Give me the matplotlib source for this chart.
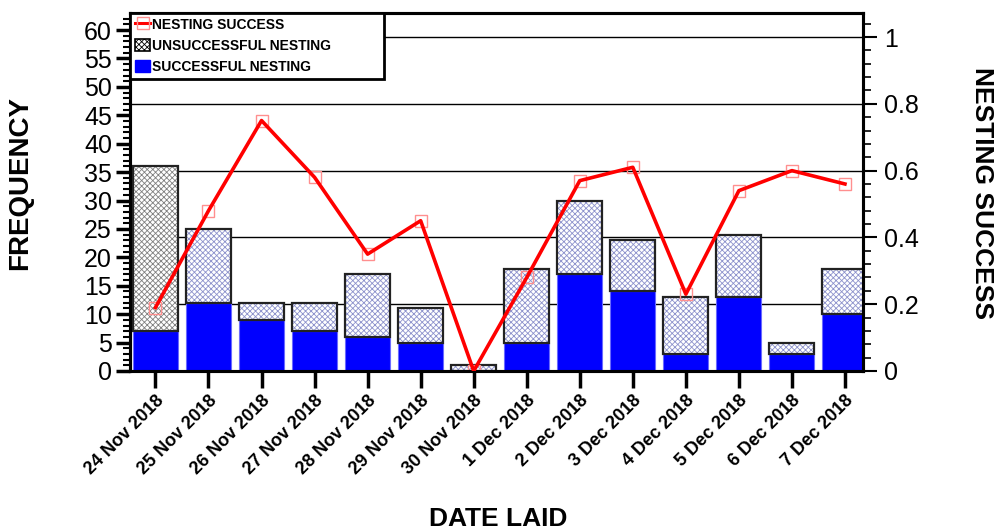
import matplotlib
matplotlib.use("Agg")
import matplotlib.pyplot as plt
from matplotlib.lines import Line2D
from matplotlib.patches import Patch
import numpy as np

plt.rcParams['font.family'] = ['Liberation Sans', 'DejaVu Sans']
plt.rcParams['hatch.linewidth'] = 0.6

dates = ["24 Nov 2018", "25 Nov 2018", "26 Nov 2018", "27 Nov 2018",
         "28 Nov 2018", "29 Nov 2018", "30 Nov 2018", "1 Dec 2018",
         "2 Dec 2018", "3 Dec 2018", "4 Dec 2018", "5 Dec 2018",
         "6 Dec 2018", "7 Dec 2018"]
successful = [7, 12, 9, 7, 6, 5, 0, 5, 17, 14, 3, 13, 3, 10]
unsuccessful = [29, 13, 3, 5, 11, 6, 1, 13, 13, 9, 10, 11, 2, 8]
nesting_success = [0.19, 0.48, 0.75, 0.58, 0.35, 0.45, 0.0, 0.28,
                   0.57, 0.61, 0.23, 0.54, 0.60, 0.56]

Y1MAX = 63.0
Y2MAX = 1.072

fig = plt.figure(figsize=(9.96, 5.31), dpi=100)
ax = fig.add_axes([130/996, 1 - 371/531, (863-130)/996, (371-13)/531])
ax2 = ax.twinx()

x = np.arange(len(dates))
w = 0.85

# horizontal grid at the right-axis major ticks, kept behind the bars
for v in [0.2, 0.4, 0.6, 0.8, 1.0]:
    ax.axhline(v * Y1MAX / Y2MAX, color='black', lw=1.0, zorder=0.5)

# successful nests (solid blue)
ax.bar(x, successful, width=w, color='#0000ff', edgecolor='#6a6aff',
       linewidth=0.8, zorder=2)

# unsuccessful nests (hatched), first date in grey, rest in blue-grey
hatch_cols = ['#808080'] + ['#8d92cc'] * (len(dates) - 1)
for xi, s, u, hc in zip(x, successful, unsuccessful, hatch_cols):
    ax.bar(xi, u, bottom=s, width=w, color='white', edgecolor=hc,
           hatch='xxxxxx', linewidth=0, zorder=2)
    ax.bar(xi, u, bottom=s, width=w, fill=False, edgecolor='#222222',
           linewidth=1.6, zorder=3)

ax.set_xlim(-0.48, 13.34)
ax.set_ylim(0, Y1MAX)
ax.set_yticks(np.arange(0, 61, 5))
ax.set_yticks(np.arange(0, 63, 1), minor=True)
ax.tick_params(axis='y', which='major', direction='out', length=10, width=2.5,
               labelsize=18, pad=3)
ax.tick_params(axis='y', which='minor', direction='out', length=5, width=1.5)
ax.set_xticks(x)
ax.set_xticklabels(dates, rotation=45, ha='right', va='top',
                   rotation_mode='anchor', fontsize=13, fontweight='bold')
ax.tick_params(axis='x', which='major', direction='out', length=12, width=2.5,
               pad=3)

# nesting success line on the right axis
ax2.plot(x, nesting_success, color='#ff0000', lw=2.6, zorder=3)
ax2.plot(x, nesting_success, ls='none', marker='s', ms=8.5,
         markerfacecolor='none', markeredgecolor='#ff8f8f', mew=1.0, zorder=2)
ax2.set_ylim(0, Y2MAX)
ax2.set_yticks([0, 0.2, 0.4, 0.6, 0.8, 1.0])
ax2.set_yticklabels(['0', '0.2', '0.4', '0.6', '0.8', '1'])
ax2.set_yticks(np.arange(0, 1.07, 0.04), minor=True)
ax2.tick_params(axis='y', which='major', direction='out', length=10, width=1.5,
                labelsize=18, pad=5)
ax2.tick_params(axis='y', which='minor', direction='out', length=6, width=1.2)

for a in (ax, ax2):
    for sp in a.spines.values():
        sp.set_linewidth(2.2)
        sp.set_color('black')

handles = [
    Line2D([0], [0], color='#ff0000', lw=2.2, marker='s', ms=8,
           markerfacecolor='none', markeredgecolor='#ff8f8f', mew=1.0),
    Patch(facecolor='white', edgecolor='black', hatch='xxxxxx', linewidth=1.2),
    Patch(facecolor='#0000ff', edgecolor='#0000ff'),
]
labels = ['NESTING SUCCESS', 'UNSUCCESSFUL NESTING', 'SUCCESSFUL NESTING']
leg = ax2.legend(handles, labels, loc='upper left',
                 bbox_to_anchor=(0, 1, 254/733, 0), mode='expand',
                 borderaxespad=0, fancybox=False, framealpha=1,
                 edgecolor='black', handlelength=1.1, handleheight=1.0,
                 handletextpad=0.15, labelspacing=0.5, borderpad=0.35,
                 prop={'weight': 'bold', 'size': 10})
leg.get_frame().set_linewidth(2.0)
leg.set_zorder(10)

fig.text(20/996, 1 - 183/531, 'FREQUENCY', rotation=90, ha='center',
         va='center', fontsize=20, fontweight='bold')
fig.text(982/996, 1 - 193/531, 'NESTING SUCCESS', rotation=270, ha='center',
         va='center', fontsize=19, fontweight='bold')
fig.text(498/996, 1 - 519/531, 'DATE LAID', ha='center', va='center',
         fontsize=19, fontweight='bold')

fig.savefig('out.png', dpi=100)
